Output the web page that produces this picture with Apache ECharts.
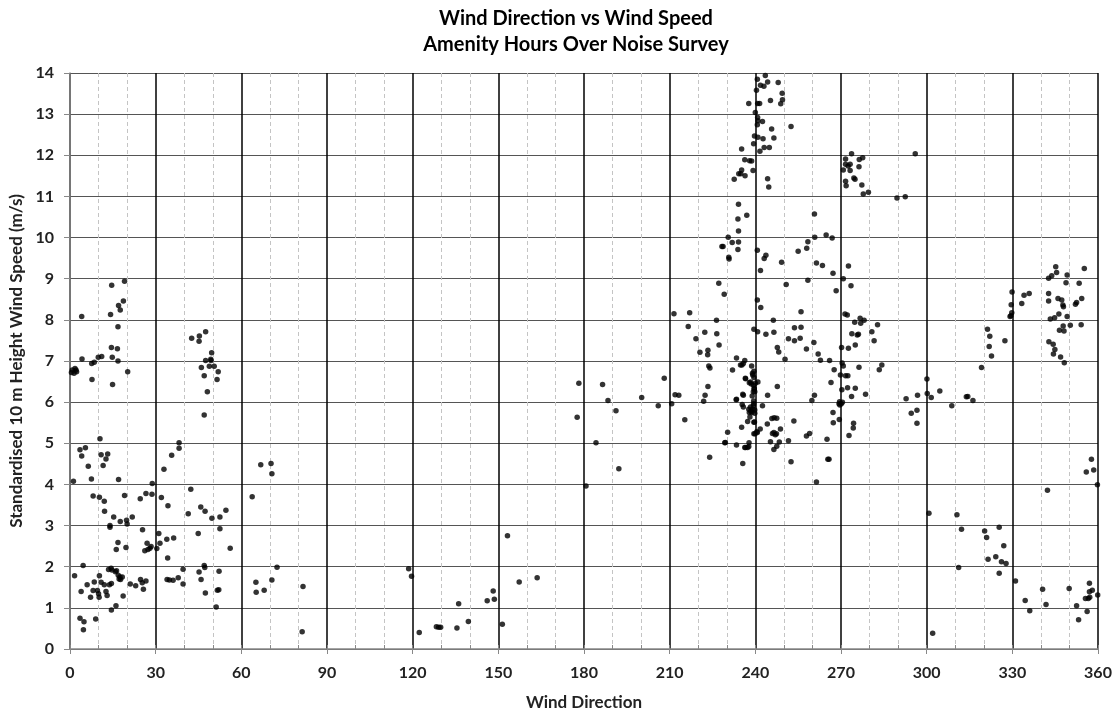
<!DOCTYPE html>
<html>
<head>
<meta charset="utf-8">
<script src="https://cdn.jsdelivr.net/npm/echarts@6/dist/echarts.min.js"></script>
<style>
html,body{margin:0;padding:0;background:#fff;}
#chart{width:1116px;height:710px;}
</style>
</head>
<body>
<div id="chart"></div>
<script>
// Wind direction (degrees) and standardised 10 m wind speed (m/s)
const titleLines = ['Wind Direction vs Wind Speed', 'Amenity Hours Over Noise Survey'];
const xAxisName = 'Wind Direction';
const yAxisName = 'Standardised 10 m Height Wind Speed (m/s)';

const points0to80 = [
[0.8,6.78],[1.75,6.82],[2.3,6.74],[1.4,6.70],[2.1,6.78],[0.5,6.72],
[4.1,8.08],[4.2,7.05],[7.6,6.94],[8.5,6.97],[9.9,7.09],[11.1,7.11],[7.7,6.55],
[14.6,8.84],[19.1,8.94],[18.7,8.46],[17.0,8.35],[17.6,8.24],[14.2,8.13],[16.8,7.83],[14.5,7.33],[16.6,7.30],[14.8,7.09],[16.8,7.0],[20.2,6.74],[14.9,6.43],
[42.6,7.55],[45.3,7.61],[47.5,7.71],[45.2,7.48],[49.6,7.20],[47.5,7.01],[49.3,7.04],[49.4,7.01],[50.5,6.87],[48.8,6.87],[46.0,6.84],[51.9,6.74],[47.0,6.64],[51.5,6.55],[48.1,6.25],[47.0,5.69],
[10.5,5.11],[3.5,4.84],[5.4,4.89],[4.1,4.69],[10.9,4.72],[13.2,4.74],[12.6,4.62],[11.6,4.46],[6.4,4.44],
[38.2,5.01],[38.2,4.88],[35.6,4.71],[32.9,4.37],[66.8,4.48],[70.4,4.51],[70.7,4.26],
[1.2,4.08],[7.5,4.13],[8.1,3.72],[10.3,3.69],[12.0,3.59],[12.1,3.35],[17.0,4.12],[19.1,3.73],[15.3,3.21],[14.0,3.0],[14.0,2.96],[17.6,3.10],[19.8,3.13],[20.0,3.04],[21.8,3.21],[24.6,3.65],[26.6,3.78],[28.7,3.76],[28.8,4.02],[25.4,2.90],
[16.8,2.59],[16.2,2.42],[19.6,2.47],[27.0,2.57],[26.2,2.39],[27.3,2.42],[28.0,2.45],[28.4,2.49],[30.4,2.44],[31.1,2.81],[31.5,2.57],[32.0,3.68],[34.3,3.48],[33.9,2.67],[36.3,2.70],[34.2,2.21],
[34.0,1.69],[34.8,1.68],[36.1,1.67],[37.9,1.73],[39.6,1.94],[39.6,1.58],[42.3,3.88],[41.4,3.29],[45.8,3.45],[47.3,3.35],[49.7,3.18],[52.5,3.21],[54.6,3.37],[52.5,2.92],[44.9,2.81],[56.1,2.45],
[47.0,2.03],[47.2,1.98],[45.2,1.87],[45.9,1.69],[47.4,1.36],[52.2,1.89],[51.6,1.43],[52.1,1.44],[51.2,1.02],[63.8,3.70],[65.1,1.62],[65.2,1.38],[68.0,1.43],[70.7,1.68],[72.5,1.99],
[1.6,1.78],[4.6,2.03],[3.9,1.40],[3.5,0.75],[4.9,0.66],[4.7,0.47],[9.0,0.73],[6.0,1.56],[7.2,1.26],[8.5,1.63],[8.1,1.42],[9.6,1.42],[10.0,1.34],[10.2,1.26],[10.3,1.78],[10.9,1.62],
[12.0,1.56],[12.6,1.40],[13.0,1.30],[13.5,1.93],[14.4,1.96],[14.7,1.92],[13.8,1.56],[14.5,1.59],[15.9,1.88],[16.3,1.90],[16.9,1.79],[17.5,1.75],[17.2,1.70],[17.7,1.69],[18.3,1.75],[18.6,1.29],
[16.1,1.05],[14.5,0.95],[21.1,1.58],[23.0,1.54],[24.7,1.69],[25.3,1.61],[25.7,1.45],[26.6,1.65],[81.6,1.52],[81.3,0.42]
];

const points80to215 = [
[118.6,1.95],[119.6,1.77],[122.3,0.40],[128.3,0.54],[129.1,0.53],[129.8,0.53],[135.5,0.51],[136.1,1.10],[139.5,0.67],[146.1,1.17],[148.2,1.41],[148.6,1.21],[151.4,0.60],[153.2,2.75],[157.3,1.63],[163.6,1.73],
[178.2,6.46],[177.6,5.63],[184.2,5.01],[180.7,3.96],[186.5,6.43],[188.4,6.04],[191.2,5.79],[192.2,4.38],[200.2,6.11],[206.0,5.91],[208.1,6.58],[210.7,5.96],[211.9,6.18],[213.2,6.17],[211.5,8.15]
];

const points215to305 = [
[243.5,13.94],[240.7,13.85],[244.3,13.78],[241.8,13.70],[243.0,13.68],[248.0,13.77],[240.4,13.58],[249.4,13.51],[249.5,13.35],[248.9,13.25],[245.3,13.33],[237.7,13.26],[240.8,13.26],[241.5,13.26],
[240.0,13.04],[240.8,12.92],[240.9,12.84],[242.5,12.82],[240.7,12.74],[252.5,12.70],[245.7,12.64],[239.7,12.47],[240.9,12.44],[242.7,12.40],[246.5,12.42],[239.4,12.28],[241.6,12.10],[243.1,12.19],[244.9,12.19],
[235.2,12.15],[236.3,11.89],[238.0,11.87],[238.7,11.86],[239.2,11.63],[235.2,11.64],[234.2,11.55],[234.9,11.55],[236.4,11.50],[232.6,11.42],[244.3,11.43],[244.7,11.23],
[234.1,10.81],[237.0,10.54],[233.9,10.45],[234.1,10.16],[230.5,10.01],[228.3,9.78],[228.7,9.78],[231.9,9.88],[234.1,9.89],[233.9,9.71],[230.7,9.52],[230.8,9.48],[240.7,9.69],[243.7,9.57],[243.1,9.49],[241.8,9.20],[249.2,9.40],
[227.2,8.89],[229.1,8.62],[240.7,8.48],[241.9,8.30],[250.8,8.86],[255.0,9.67],[258.0,9.74],[258.4,9.90],[260.8,10.01],[260.7,10.57],[264.8,10.06],[266.9,9.99],[261.4,9.38],[263.5,9.32],[267.2,9.13],[258.4,8.96],[268.3,8.71],[270.8,9.00],[272.6,9.31],[273.5,8.83],[256.0,8.20],
[271.6,11.91],[273.7,12.04],[276.4,11.90],[277.6,11.94],[270.8,11.64],[271.6,11.78],[272.5,11.74],[273.2,11.78],[273.2,11.63],[276.3,11.72],[271.6,11.37],[271.8,11.26],[274.5,11.45],[274.9,11.42],[277.3,11.28],[277.8,11.06],[279.6,11.10],[289.6,10.96],[292.5,10.99],[296.0,12.04],
[217.0,8.17],[216.5,7.84],[226.4,7.99],[222.3,7.70],[226.5,7.66],[227.3,7.39],[219.2,7.54],[220.6,7.21],[223.4,7.26],[223.3,7.15],[223.7,6.88],[224.1,6.83],[223.4,6.38],[222.4,6.17],[221.9,6.02],[215.3,5.57],[224.0,4.66],
[230.3,5.27],[229.3,5.01],[233.4,4.96],[235.6,4.51],[236.3,4.90],[237.7,4.92],[237.8,5.01],[235.2,5.39],[237.3,5.53],[238.1,5.64],[238.8,5.75],[239.5,5.51],[239.5,5.23],[240.7,5.26],[241.7,5.35],
[235.4,5.94],[235.8,5.88],[237.7,5.83],[238.3,5.88],[239.3,5.91],[233.4,6.07],[235.8,6.17],[238.9,6.15],[239.3,6.25],[239.6,6.33],[240.0,6.46],[240.9,6.49],[238.6,6.44],[238.3,6.49],[236.6,6.57],[237.9,6.47],
[239.0,6.70],[239.5,6.75],[239.1,6.66],[239.5,6.60],[238.7,6.88],[235.3,6.90],[235.8,6.94],[236.3,7.01],[233.4,7.07],[232.0,6.78],[242.5,5.91],[244.3,6.17],[247.7,6.38],
[239.4,6.03],[239.4,5.96],[239.1,5.83],[239.8,5.81],[239.8,5.73],[239.7,5.52],[237.9,5.75],[238.4,5.78],[236.5,6.58],[239.4,6.41],[239.6,6.32],[239.8,6.25],[233.3,6.06],[235.6,6.19],[234.8,6.90],
[237.3,4.90],[236.6,4.90],[229.5,5.02],[246.0,5.24],[248.4,5.03],[239.9,5.23],[240.5,5.28],
[239.5,7.77],[240.8,7.71],[243.7,7.65],[246.3,7.99],[246.5,7.70],[247.7,7.33],[248.2,7.22],[250.4,7.04],[253.7,7.81],[256.0,7.82],[251.6,7.54],[253.7,7.49],[255.7,7.55],[257.9,7.29],[260.5,7.45],
[262.0,7.17],[262.8,7.02],[266.0,7.01],[267.6,6.79],[266.5,6.48],[260.7,6.17],[259.8,6.04],[245.8,5.60],[246.6,5.62],[247.5,5.61],[244.2,5.47],[248.8,5.35],[246.5,5.26],[247.0,5.21],[247.4,5.23],
[245.3,5.04],[247.5,4.93],[246.5,4.85],[251.6,5.06],[253.5,5.54],[252.5,4.55],[257.9,5.18],[259.0,5.24],[265.1,5.10],[265.4,4.61],[265.8,4.61],[261.4,4.06],
[267.2,5.75],[267.3,5.50],[269.4,5.58],[269.3,5.96],[269.6,5.93],[270.1,5.96],[270.5,6.00],[269.5,6.01],[270.3,6.30],[269.8,6.66],[270.4,6.95],[270.8,6.88],[271.6,6.64],[272.4,6.64],
[270.2,7.33],[272.6,7.31],[271.4,8.14],[272.2,8.12],[273.8,7.66],[275.0,7.39],[275.7,7.63],[276.1,7.65],[274.8,7.94],[276.7,8.04],[276.9,7.92],[278.1,7.99],
[272.3,6.35],[275.0,6.34],[273.7,6.14],[276.3,6.85],[278.6,6.19],[274.4,5.49],[274.3,5.37],[272.8,5.19],[280.8,7.71],[281.6,7.49],[282.8,7.88],[283.4,6.79],[284.3,6.90],
[292.8,6.08],[296.8,6.17],[300.2,6.21],[301.6,6.11],[300.1,6.56],[304.6,6.27],[294.6,5.73],[296.6,5.80],[296.6,5.49]
];

const points305to360 = [
[308.8,5.91],[313.9,6.13],[314.4,6.14],[316.2,6.04],[319.2,6.84],[321.3,7.77],[322.1,7.60],[321.9,7.35],[322.7,7.12],[327.4,7.49],
[329.9,8.68],[329.6,8.37],[329.8,8.17],[329.5,8.10],[329.2,8.08],[333.3,8.40],[334.1,8.60],[335.9,8.64],
[342.7,9.01],[343.8,9.07],[345.2,9.29],[345.5,9.15],[349.2,9.09],[348.8,8.90],[353.4,8.89],[355.2,9.25],
[342.7,8.64],[342.7,8.46],[346.0,8.52],[347.3,8.48],[347.7,8.36],[347.9,8.32],[352.1,8.38],[352.5,8.42],[354.3,8.52],
[343.3,8.02],[344.8,8.05],[346.3,8.14],[349.2,8.08],[347.8,7.85],[350.3,7.87],[346.5,7.75],[348.1,7.73],[354.1,7.88],
[342.8,7.47],[344.3,7.41],[344.9,7.28],[344.4,7.17],[346.9,7.10],[348.2,6.96],
[357.7,4.61],[355.9,4.30],[358.5,4.35],[359.8,3.99],[342.3,3.86],[300.8,3.30],[310.6,3.26],[312.2,2.91],[320.3,2.87],[321.0,2.71],[325.4,2.96],[327.0,2.51],
[324.2,2.24],[321.5,2.18],[326.2,2.12],[327.8,2.08],[325.4,1.84],[311.2,1.98],[331.1,1.65],[340.6,1.45],[341.8,1.08],[334.5,1.18],[336.1,0.93],
[349.9,1.47],[352.5,1.05],[353.2,0.71],[356.2,0.91],[357.0,1.60],[358.0,1.43],[357.0,1.39],[355.6,1.23],[356.6,1.23],[357.1,1.26],[359.9,1.31],[302.1,0.38]
];

const xTicks = {min: 0, max: 360, interval: 30, minorInterval: 10};
const yTicks = {min: 0, max: 14, interval: 1};

const allPoints = [].concat(points0to80, points80to215, points215to305, points305to360);

const FONT = 'Lato, "Open Sans", sans-serif';
const chart = echarts.init(document.getElementById('chart'), null, {renderer: 'canvas'});
chart.setOption({
  animation: false,
  backgroundColor: '#ffffff',
  title: {
    text: titleLines.join('\n'),
    left: 576,
    top: 6,
    padding: 0,
    textAlign: 'center',
    textStyle: {fontFamily: FONT, fontSize: 20, fontWeight: 'bold', color: '#000', lineHeight: 26}
  },
  grid: {left: 70, right: 18, top: 73, bottom: 61, containLabel: false, outerBoundsMode: 'none'},
  xAxis: [{
    type: 'value',
    min: xTicks.min, max: xTicks.max, interval: xTicks.interval,
    name: xAxisName,
    nameLocation: 'middle',
    nameGap: 45,
    nameTextStyle: {fontFamily: FONT, fontSize: 17, fontWeight: 'bold', color: '#222'},
    axisLine: {show: true, onZero: false, lineStyle: {color: '#888', width: 1.5}},
    axisTick: {show: true, length: 5, lineStyle: {color: '#888', width: 1}},
    axisLabel: {fontFamily: FONT, fontSize: 16, fontWeight: 'bold', color: '#222', margin: 16},
    splitLine: {show: true, lineStyle: {color: '#000', width: 1.5}},
    minorTick: {show: true, splitNumber: 3, length: 0, lineStyle: {color: '#888', width: 0}},
    minorSplitLine: {show: true, lineStyle: {color: '#c4c4c4', width: 1, type: [4, 3]}}
  }, {
    type: 'value',
    position: 'bottom',
    offset: 0,
    min: xTicks.min, max: xTicks.max, interval: xTicks.minorInterval,
    axisLine: {show: false},
    axisTick: {show: true, inside: true, length: 4, lineStyle: {color: '#888', width: 1}},
    axisLabel: {show: false},
    splitLine: {show: false},
    minorSplitLine: {show: false}
  }],
  yAxis: {
    type: 'value',
    min: yTicks.min, max: yTicks.max, interval: yTicks.interval,
    name: yAxisName,
    nameLocation: 'middle',
    nameRotate: 90,
    nameGap: 42,
    nameTextStyle: {fontFamily: FONT, fontSize: 17, fontWeight: 'bold', color: '#222'},
    axisLine: {show: true, lineStyle: {color: '#888', width: 1.5}},
    axisTick: {show: true, length: 6, lineStyle: {color: '#888', width: 1}},
    axisLabel: {fontFamily: FONT, fontSize: 16, fontWeight: 'bold', color: '#222', margin: 16},
    splitLine: {show: true, lineStyle: {color: '#555', width: 1.2}}
  },
  series: [{
    type: 'scatter',
    xAxisIndex: 0,
    data: allPoints,
    symbol: 'circle',
    symbolSize: 5.5,
    itemStyle: {color: '#000'},
    silent: true
  }]
});
</script>
</body>
</html>
